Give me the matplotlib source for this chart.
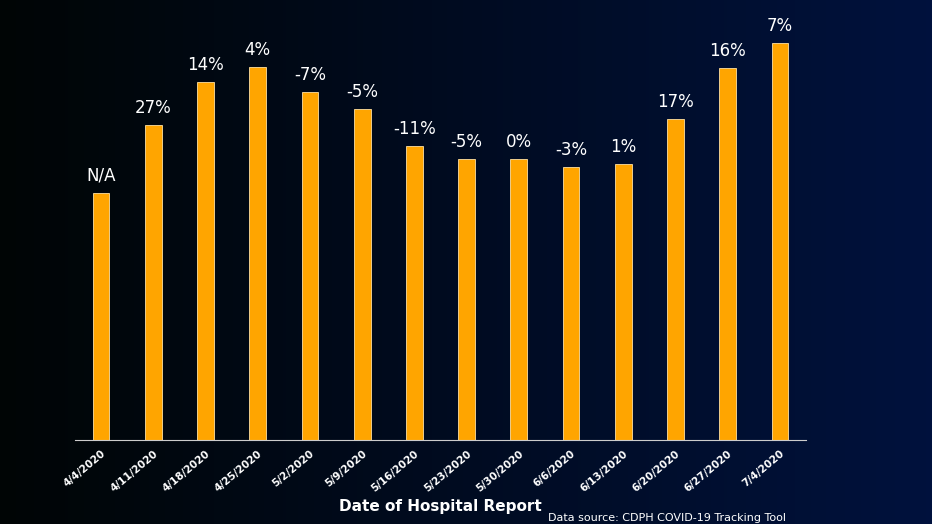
import matplotlib
matplotlib.use("Agg")
import matplotlib.pyplot as plt
import numpy as np

dates = ["4/4/2020","4/11/2020","4/18/2020","4/25/2020","5/2/2020","5/9/2020","5/16/2020",
         "5/23/2020","5/30/2020","6/6/2020","6/13/2020","6/20/2020","6/27/2020","7/4/2020"]
values = [247,315,358,373,348,331,294,281,281,273,276,321,372,397]
labels = ["N/A","27%","14%","4%","-7%","-5%","-11%","-5%","0%","-3%","1%","17%","16%","7%"]

fig = plt.figure(figsize=(9.32,5.24), dpi=100)
bg = fig.add_axes([0,0,1,1], zorder=-10)
grad = np.linspace(0,1,300)
r = 0.0*grad; g = 0.02+0.05*grad; b = 0.02+0.22*grad
img = np.dstack([np.tile(c,(10,1)) for c in (r,g,b)])
bg.imshow(img, aspect='auto', extent=[0,1,0,1])
bg.axis('off')

ax = fig.add_axes([75/932, 1-440/524, (806-75)/932, 420/524])
ax.patch.set_alpha(0)
x = np.arange(len(dates))
ax.bar(x, values, width=0.32, color='#FFA500', edgecolor='#FFE0A0', linewidth=0.6)
for xi, v, l in zip(x, values, labels):
    ax.text(xi, v+8, l, ha='center', va='bottom', color='white', fontsize=12)
ax.set_ylim(0,420)
ax.set_xlim(-0.5, len(dates)-0.5)
ax.set_yticks([])
ax.set_xticks(x)
ax.set_xticklabels(dates, rotation=40, ha='right', rotation_mode='anchor', color='white',
                   fontsize=7.5, fontweight='bold')
ax.tick_params(axis='x', length=0, pad=6)
for s in ['top','right','left']:
    ax.spines[s].set_visible(False)
ax.spines['bottom'].set_color('#cccccc')
fig.text(440/932, 1-507/524, "Date of Hospital Report", ha='center', va='center',
         color='white', fontsize=11, fontweight='bold')
fig.text(548/932, 1-518/524, "Data source: CDPH COVID-19 Tracking Tool", ha='left', va='center',
         color='white', fontsize=8)
fig.savefig("out.png", dpi=100)
